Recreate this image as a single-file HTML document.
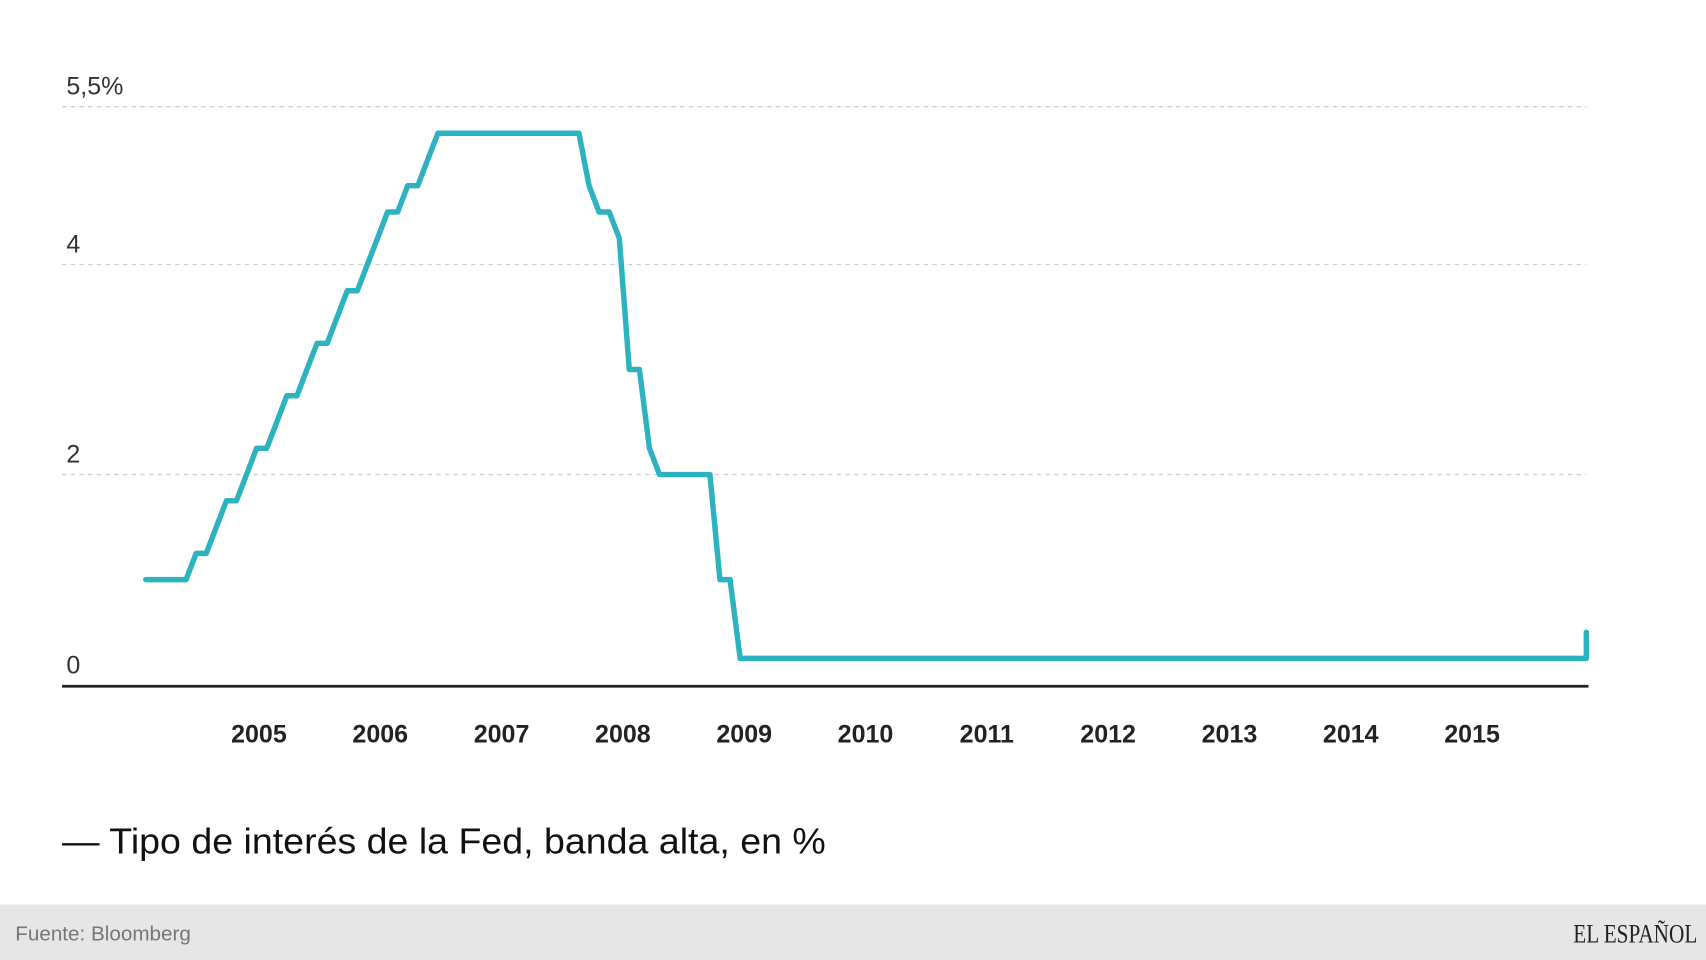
<!DOCTYPE html>
<html><head><meta charset="utf-8"><style>
html,body{margin:0;padding:0;background:#fff;}
svg{display:block;}
</style></head><body>
<svg id="c" width="1706" height="960" viewBox="0 0 1568 882" preserveAspectRatio="none" xmlns="http://www.w3.org/2000/svg">
<rect x="0" y="0" width="1568" height="882" fill="#fff"/>
<g stroke="#cfcfcf" stroke-width="1.2" stroke-dasharray="4,4">
<line x1="57" y1="98" x2="1458" y2="98"/>
<line x1="57" y1="243" x2="1458" y2="243"/>
<line x1="57" y1="436" x2="1458" y2="436"/>
</g>
<g font-family="Liberation Sans, sans-serif" font-size="23" fill="#333">
<text x="61" y="87">5,5%</text>
<text x="61" y="232">4</text>
<text x="61" y="425">2</text>
<text x="61" y="619">0</text>
</g>
<polyline id="ln" fill="none" stroke="#2db3c0" stroke-width="5" stroke-linejoin="round" stroke-linecap="round" points=""/>
<line x1="57" y1="630.5" x2="1460" y2="630.5" stroke="#222" stroke-width="2.5"/>
<g font-family="Liberation Sans, sans-serif" font-size="23" font-weight="bold" fill="#222" text-anchor="middle">
<text x="238" y="682">2005</text><text x="349.5" y="682">2006</text><text x="461" y="682">2007</text>
<text x="572.5" y="682">2008</text><text x="684" y="682">2009</text><text x="795.5" y="682">2010</text>
<text x="907" y="682">2011</text><text x="1018.5" y="682">2012</text><text x="1130" y="682">2013</text>
<text x="1241.5" y="682">2014</text><text x="1353" y="682">2015</text>
</g>
<text x="57" y="784" font-family="Liberation Sans, sans-serif" font-size="33" fill="#111" textLength="702" lengthAdjust="spacingAndGlyphs">— Tipo de interés de la Fed, banda alta, en %</text>
<rect x="0" y="831" width="1568" height="51" fill="#e6e6e6"/>
<text x="14" y="864" font-family="Liberation Sans, sans-serif" font-size="19" fill="#777">Fuente: Bloomberg</text>
<text x="1560" y="866" text-anchor="end" font-family="Liberation Serif, serif" font-size="24" fill="#222" textLength="114" lengthAdjust="spacingAndGlyphs">EL ESPAÑOL</text>
</svg>
<script>
var v=[1,1,1,1,1,1.25,1.25,1.5,1.75,1.75,2,2.25,
2.25,2.5,2.75,2.75,3,3.25,3.25,3.5,3.75,3.75,4,4.25,
4.5,4.5,4.75,4.75,5,5.25,5.25,5.25,5.25,5.25,5.25,5.25,
5.25,5.25,5.25,5.25,5.25,5.25,5.25,5.25,4.75,4.5,4.5,4.25,
3.0,3.0,2.25,2.0,2,2,2,2,2,1.0,1.0,0.25];
while(v.length<144)v.push(0.25);
var p=[];
for(var m=0;m<144;m++){var x=134+m*(1458-134)/143;p.push(x.toFixed(1)+","+(629-96.5*v[m]).toFixed(1));}
p.push("1458,"+(629-96.5*0.5).toFixed(1));
document.getElementById("ln").setAttribute("points",p.join(" "));
</script>
</body></html>
